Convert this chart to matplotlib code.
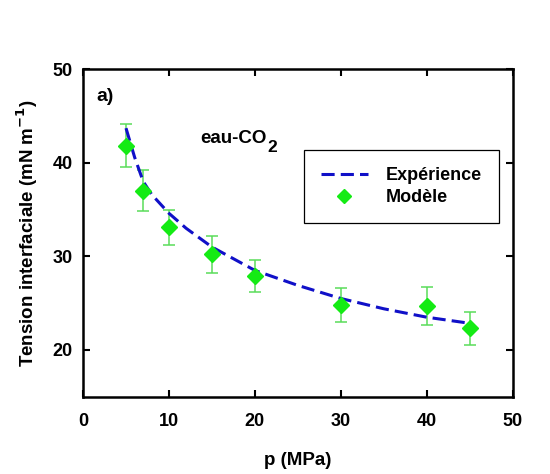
import numpy as np
import matplotlib.pyplot as plt

plt.rcParams['font.family'] = ['Liberation Sans', 'DejaVu Sans']
plt.rcParams['font.weight'] = 'bold'
plt.rcParams['mathtext.default'] = 'bf'

# model points (diamonds) with error bars
p_mod = [5, 7, 10, 15, 20, 30, 40, 45]
gamma_mod = [41.8, 37.0, 33.1, 30.2, 27.9, 24.8, 24.7, 22.3]
gamma_err = [2.3, 2.2, 1.9, 2.0, 1.7, 1.8, 2.0, 1.8]

# experimental correlation (dashed curve)
p_exp = [5, 6, 7, 8, 10, 12, 15, 20, 25, 30, 35, 40, 45]
gamma_exp = [43.7, 40.6, 38.0, 36.6, 34.6, 33.0, 31.0, 28.5, 26.9, 25.5, 24.4, 23.5, 22.85]

fig = plt.figure(figsize=[5.5, 4.74], dpi=100)
ax = fig.add_axes([0.151, 0.163, 0.781, 0.691])

ax.plot(p_exp, gamma_exp, ls=(0, (4.3, 2.0)), color='#1010C8', lw=2.2, label='Expérience', zorder=3)
ax.errorbar(p_mod, gamma_mod, yerr=gamma_err, fmt='none', ecolor='#5ADC5A', elinewidth=1.1,
            capsize=4, capthick=1.1, zorder=2)
ax.plot(p_mod, gamma_mod, 'D', color='#14EB14', ms=8.5, ls='none', label='Modèle', zorder=4)

ax.set_xlim(0, 50)
ax.set_ylim(15, 50)
ax.set_xticks([0, 10, 20, 30, 40, 50])
ax.set_yticks([20, 30, 40, 50])
ax.tick_params(direction='in', length=5, width=1.5, top=True, right=True, labelsize=13)
ax.tick_params(axis='x', pad=11.5)
ax.tick_params(axis='y', pad=7.5)
for s in ax.spines.values():
    s.set_linewidth(1.8)

ax.set_xlabel('p (MPa)', fontsize=13.5, fontweight='bold', labelpad=16)
ax.set_ylabel('Tension interfaciale (mN m$^{-1}$)', fontsize=13.5, fontweight='bold', labelpad=9)

ax.text(0.030, 0.903, 'a)', transform=ax.transAxes, fontsize=14, fontweight='bold')
t = ax.text(0.272, 0.775, 'eau-CO', transform=ax.transAxes, fontsize=13.5, fontweight='bold')
ax.annotate('2', xy=(1, 0), xycoords=t, xytext=(0.5, -4), textcoords='offset points',
            fontsize=12.5, fontweight='bold', va='baseline')

leg = ax.legend(loc='upper left', bbox_to_anchor=(0.514, 0.754), borderaxespad=0, fontsize=13,
                frameon=True, fancybox=False, edgecolor='black', framealpha=1, handlelength=2.6,
                borderpad=0.95, labelspacing=0.3, handletextpad=1.0, markerscale=0.8)
leg.get_frame().set_linewidth(0.9)

plt.savefig('out.png', dpi=100)
